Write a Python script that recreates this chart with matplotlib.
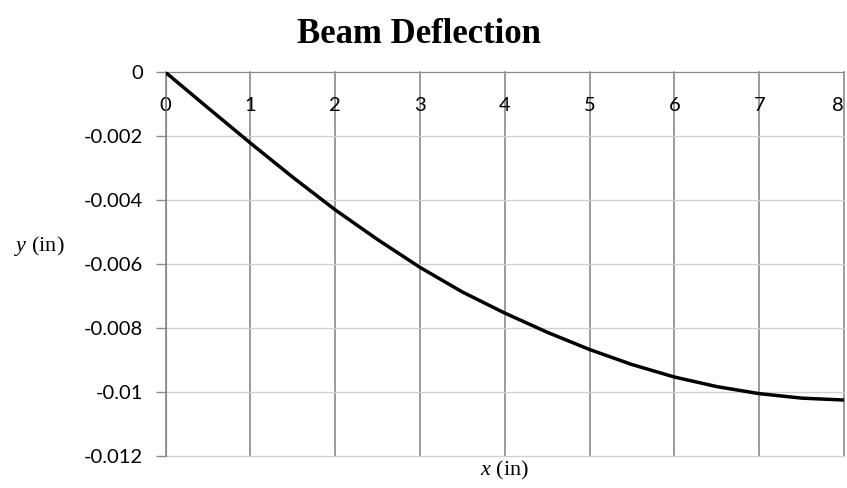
import matplotlib.pyplot as plt

plt.rcParams['mathtext.fontset'] = 'custom'
plt.rcParams['mathtext.rm'] = 'Liberation Serif'
plt.rcParams['mathtext.it'] = 'Liberation Serif:italic'

# deflection along the beam
x_in = [0, 0.5, 1, 1.5, 2, 2.5, 3, 3.5, 4, 4.5, 5, 5.5, 6, 6.5, 7, 7.5, 8]
y_in = [0, -0.00111, -0.00221, -0.00328, -0.00430, -0.00523, -0.00610,
        -0.00687, -0.00753, -0.00813, -0.00867, -0.00914, -0.00953,
        -0.00983, -0.01005, -0.01019, -0.01025]

xticks = [0, 1, 2, 3, 4, 5, 6, 7, 8]
yticks = [0, -0.002, -0.004, -0.006, -0.008, -0.01, -0.012]
ylabels = ['0', '-0.002', '-0.004', '-0.006', '-0.008', '-0.01', '-0.012']

fig = plt.figure(figsize=(8.47, 4.88), dpi=100)
ax = fig.add_axes([0.1954, 0.0656, 0.8011, 0.7862])

ax.plot(x_in, y_in, color='black', lw=2.5, solid_joinstyle='round', zorder=3)

ax.set_xlim(0, 8)
ax.set_ylim(-0.012, 0)
ax.set_xticks(xticks)
ax.set_xticklabels([str(v) for v in xticks])
ax.set_yticks(yticks)
ax.set_yticklabels(ylabels)

# horizontal axis sits at y = 0, labels just under it
ax.spines['bottom'].set_position(('data', 0))
ax.spines['bottom'].set_color('#8a8a8a')
ax.spines['left'].set_color('#8a8a8a')
ax.spines['top'].set_visible(False)
ax.spines['right'].set_visible(False)

ax.xaxis.grid(True, color='#8a8a8a', lw=1.2)
ax.yaxis.grid(True, color='#d0d0d0', lw=1.0)
for gl in ax.get_xgridlines() + ax.get_ygridlines():
    gl.set_clip_on(False)
ax.set_axisbelow(True)

ax.tick_params(axis='x', length=0, pad=18, labelsize=14.5, labelfontfamily='Lato')
ax.tick_params(axis='y', length=7, width=1, color='#8a8a8a', pad=9,
               labelsize=14.5, labelfontfamily='Lato')
# keep the last label inside the figure
ax.get_xticklabels()[-1].set_ha('right')

fig.text(0.495, 0.93, 'Beam Deflection', ha='center', va='center',
         fontsize=25, fontweight='bold', family='Liberation Serif')
fig.text(0.046, 0.495, r'$y$ (in)', ha='center', va='center',
         fontsize=16, family='Liberation Serif')
fig.text(0.595, 0.035, r'$x$ (in)', ha='center', va='center',
         fontsize=16, family='Liberation Serif')

fig.savefig('out.png', dpi=100)
